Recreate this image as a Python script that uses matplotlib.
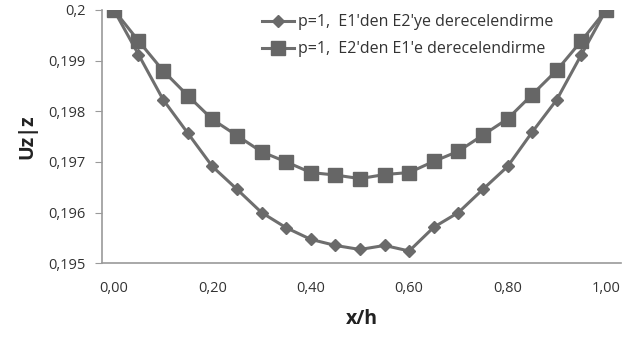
import matplotlib.pyplot as plt
from matplotlib.ticker import FuncFormatter

# x/h positions
x_h = [0.00, 0.05, 0.10, 0.15, 0.20, 0.25, 0.30, 0.35, 0.40, 0.45, 0.50,
       0.55, 0.60, 0.65, 0.70, 0.75, 0.80, 0.85, 0.90, 0.95, 1.00]

# p=1, E1'den E2'ye derecelendirme (diamonds)
uz_e1_e2 = [0.2000, 0.19912, 0.19823, 0.19757, 0.19691, 0.19646, 0.19600,
            0.19570, 0.19547, 0.19535, 0.19527, 0.19535, 0.19524, 0.19571,
            0.19600, 0.19646, 0.19691, 0.19759, 0.19823, 0.19912, 0.2000]

# p=1, E2'den E1'e derecelendirme (squares)
uz_e2_e1 = [0.2000, 0.19939, 0.19880, 0.19831, 0.19784, 0.19752, 0.19720,
            0.19700, 0.19679, 0.19674, 0.19667, 0.19675, 0.19679, 0.19701,
            0.19721, 0.19753, 0.19785, 0.19833, 0.19881, 0.19939, 0.2000]

labels = ["p=1,  E1'den E2'ye derecelendirme",
          "p=1,  E2'den E1'e derecelendirme"]

x_ticks = [0.0, 0.2, 0.4, 0.6, 0.8, 1.0]
y_ticks = [0.195, 0.196, 0.197, 0.198, 0.199, 0.200]

plt.rcParams['font.family'] = ['Open Sans', 'DejaVu Sans']

fig = plt.figure(figsize=(6.42, 3.44), dpi=100)
ax = fig.add_axes([0.159, 0.235, 0.808, 0.736])

line_col = '#6e6e6e'
ax.plot(x_h, uz_e1_e2, color=line_col, lw=2.2, marker='D', markersize=6,
        markerfacecolor='#6a6a6a', markeredgecolor='#6a6a6a', label=labels[0])
ax.plot(x_h, uz_e2_e1, color=line_col, lw=2.2, marker='s', markersize=9.5,
        markerfacecolor='#666666', markeredgecolor='#666666', label=labels[1])

ax.set_xlim(-0.024, 1.03)
ax.set_ylim(0.195, 0.2)
ax.set_xticks(x_ticks)
ax.set_yticks(y_ticks)

ax.xaxis.set_major_formatter(FuncFormatter(lambda v, p: f"{v:.2f}".replace('.', ',')))
ax.yaxis.set_major_formatter(FuncFormatter(
    lambda v, p: ("0,2" if abs(v - 0.2) < 1e-9 else f"{v:.3f}".replace('.', ','))))

for s in ['top', 'right']:
    ax.spines[s].set_visible(False)
for s in ['left', 'bottom']:
    ax.spines[s].set_color('#9a9a9a')
    ax.spines[s].set_linewidth(1.2)
ax.spines['left'].set_zorder(0)
ax.spines['bottom'].set_zorder(0)

ax.tick_params(axis='y', length=5, color='#9a9a9a', labelsize=10.5, labelcolor='#333333', pad=7)
ax.tick_params(axis='x', length=0, labelsize=10.5, labelcolor='#333333', pad=13)

ax.set_xlabel('x/h', fontsize=14, fontweight='bold', color='#222222', labelpad=9)
ax.set_ylabel('Uz|z', fontsize=14, fontweight='bold', color='#222222', labelpad=8)

leg = ax.legend(loc='upper left', bbox_to_anchor=(0.28, 1.04), frameon=False,
                fontsize=11.5, handlelength=2.0, handletextpad=0.3, labelspacing=0.7)
for t in leg.get_texts():
    t.set_color('#333333')

plt.savefig('out.png', dpi=100)
